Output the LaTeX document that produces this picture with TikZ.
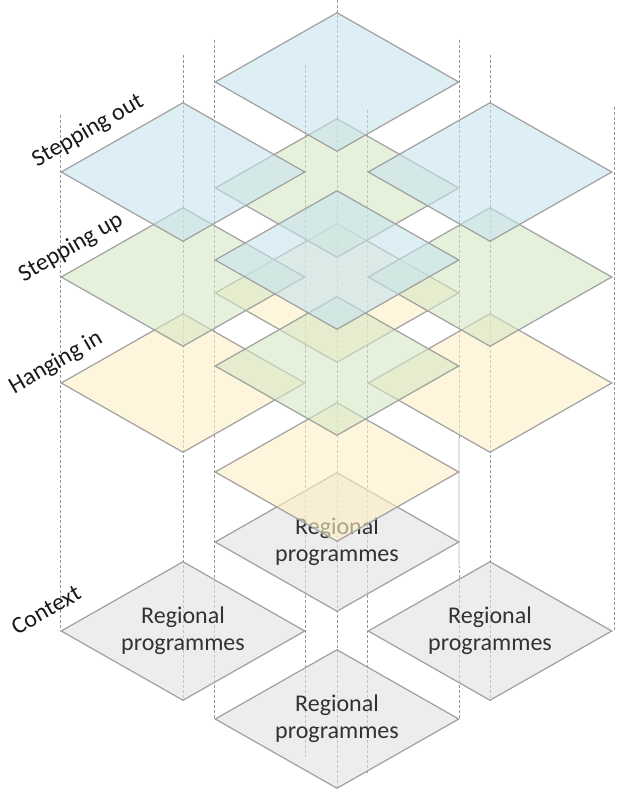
\documentclass[tikz,border=0pt]{standalone}
\usepackage{fontspec}
\setmainfont{Carlito}
\usetikzlibrary{shapes.geometric}
\definecolor{edgegray}{RGB}{160,160,160}
\definecolor{polegray}{RGB}{150,150,150}
\definecolor{textgray}{RGB}{50,50,50}
\definecolor{outblue}{RGB}{198,227,238}
\definecolor{upgreen}{RGB}{213,232,197}
\definecolor{inyellow}{RGB}{253,240,197}
\definecolor{ctxgray}{RGB}{225,225,225}
\tikzstyle{tile} = [diamond, aspect=1.755, minimum width=244pt, minimum height=139pt, inner sep=0pt, draw=edgegray, line width=1.2pt, fill opacity=0.6, text opacity=1, align=center, text=textgray, font=\fontsize{24}{27}\selectfont]
\tikzstyle{pole} = [draw=polegray, line width=0.6pt, dash pattern=on 3pt off 2pt]
\tikzstyle{layer} = [rotate=30, inner sep=1pt, text=black!90, font=\fontsize{24}{27}\selectfont]

\begin{document}
\begin{tikzpicture}[x=1pt,y=-1pt]
\useasboundingbox (0,0) rectangle (616,794);

% vertical guides through the corners
\draw[pole] (60,115) -- (60,631);
\draw[pole] (183,55) -- (183,701);
\draw[pole] (305,65) -- (305,757);
\draw[pole] (214,40) -- (214,719);
\draw[pole] (337,0) -- (337,788);
\draw[pole] (459,40) -- (459,719);
\draw[pole] (367,110) -- (367,775);
\draw[pole] (490,55) -- (490,701);
\draw[pole] (614,107) -- (614,631);
\draw[black!10, line width=2pt] (459,438) -- (459,567);

% context
\node[tile, fill=ctxgray] (ctxT) at (337,542) {Regional\\programmes};
\node[tile, fill=ctxgray] (ctxL) at (183,631) {Regional\\programmes};
\node[tile, fill=ctxgray] (ctxR) at (490,631) {Regional\\programmes};
\node[tile, fill=ctxgray] (ctxB) at (337,719) {Regional\\programmes};

% hanging in
\node[tile, fill=inyellow] (inT) at (337,293) {};
\node[tile, fill=inyellow] (inL) at (183,383) {};
\node[tile, fill=inyellow] (inR) at (490,383) {};
\node[tile, fill=inyellow] (inB) at (337,472) {};

% stepping up
\node[tile, fill=upgreen] (upT) at (337,188) {};
\node[tile, fill=upgreen] (upL) at (183,277) {};
\node[tile, fill=upgreen] (upR) at (490,277) {};
\node[tile, fill=upgreen] (upB) at (337,366) {};

% stepping out
\node[tile, fill=outblue] (outT) at (337,82) {};
\node[tile, fill=outblue] (outL) at (183,172) {};
\node[tile, fill=outblue] (outR) at (490,172) {};
\node[tile, fill=outblue] (outB) at (337,260) {};

\node[layer] (lout) at (88,131) {Stepping out};
\node[layer] (lup) at (71,248) {Stepping up};
\node[layer] (lin) at (56,363) {Hanging in};
\node[layer] (lctx) at (46,610) {Context};

\end{tikzpicture}
\end{document}
